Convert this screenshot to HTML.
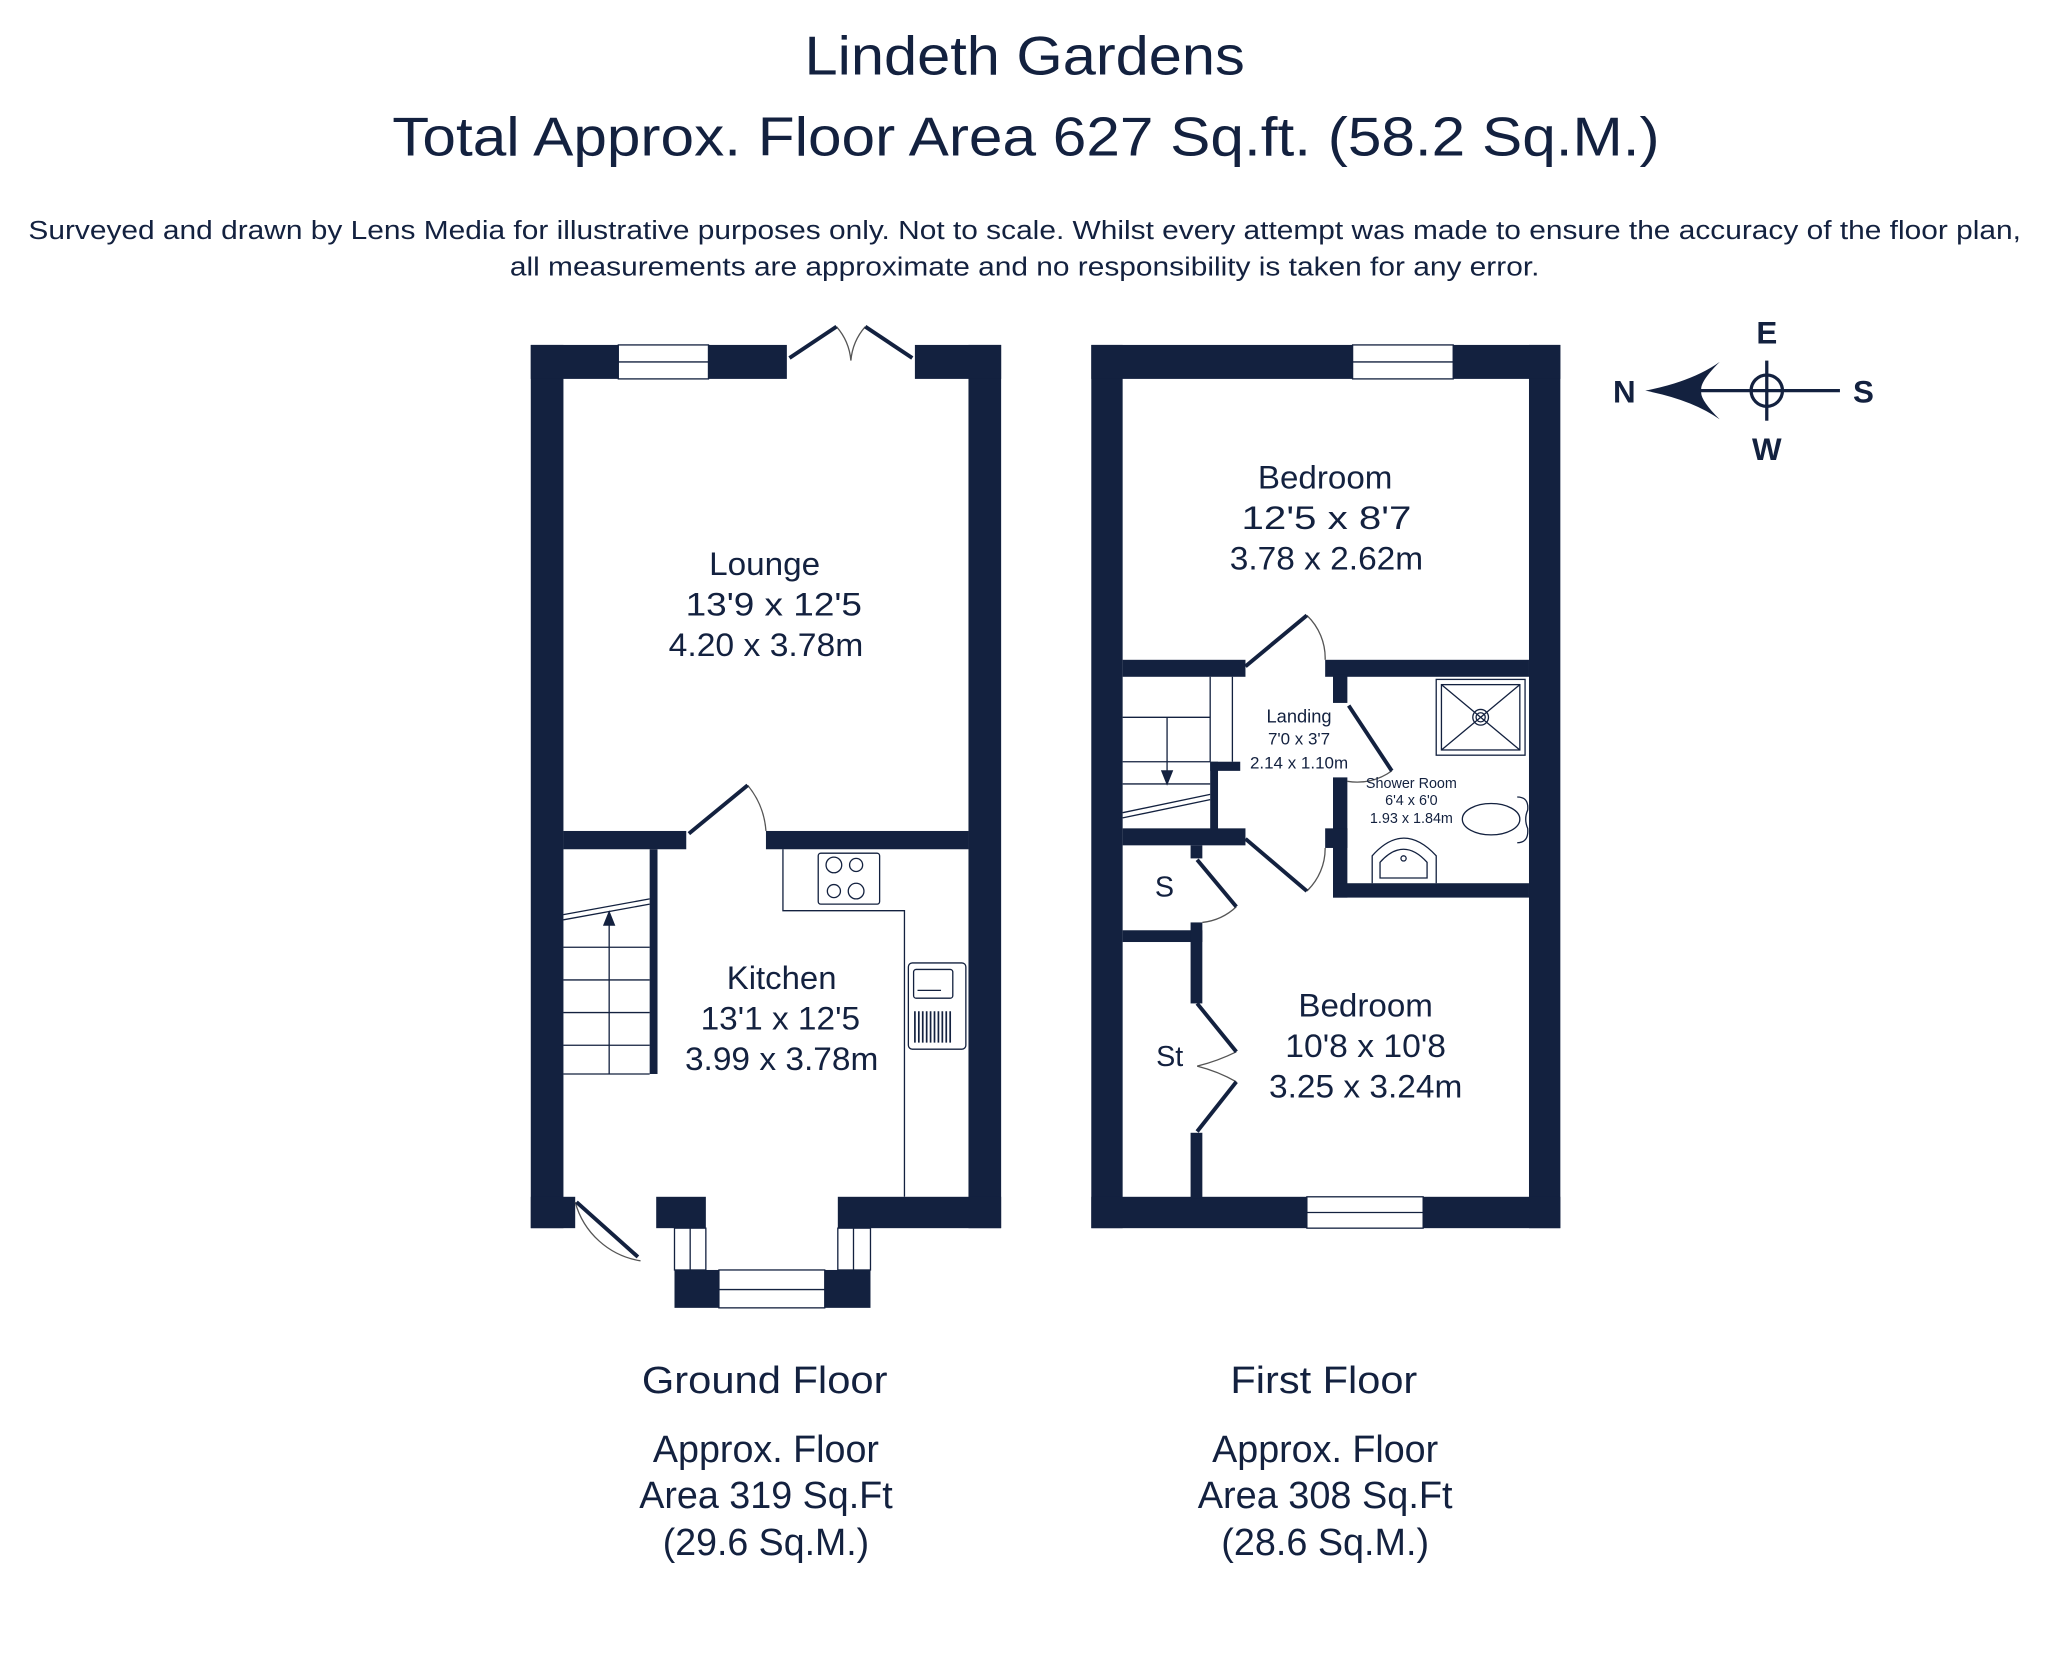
<!DOCTYPE html>
<html><head><meta charset="utf-8"><style>html,body{margin:0;padding:0;background:#fff}svg{display:block}</style></head>
<body>
<svg width="2048" height="1675" viewBox="0 0 1567 1282" xmlns="http://www.w3.org/2000/svg" font-family="'Liberation Sans', sans-serif">
<rect width="1567" height="1282" fill="#fff"/>
<g fill="#13213f" text-anchor="middle" lengthAdjust="spacingAndGlyphs">
<text x="784" y="57" font-size="42" textLength="337" lengthAdjust="spacingAndGlyphs">Lindeth Gardens</text>
<text x="785" y="119" font-size="42" textLength="970" lengthAdjust="spacingAndGlyphs">Total Approx. Floor Area 627 Sq.ft. (58.2 Sq.M.)</text>
<text x="784" y="183" font-size="20" textLength="1525" lengthAdjust="spacingAndGlyphs">Surveyed and drawn by Lens Media for illustrative purposes only. Not to scale. Whilst every attempt was made to ensure the accuracy of the floor plan,</text>
<text x="784" y="211" font-size="20" textLength="788" lengthAdjust="spacingAndGlyphs">all measurements are approximate and no responsibility is taken for any error.</text>
</g>

<!-- GROUND FLOOR -->
<g fill="#13213f">
<rect x="406" y="264" width="25" height="676"/>
<rect x="741" y="264" width="25" height="676"/>
<rect x="406" y="264" width="67" height="26"/>
<rect x="542" y="264" width="60" height="26"/>
<rect x="700" y="264" width="66" height="26"/>
<rect x="406" y="916" width="34" height="24"/>
<rect x="502" y="916" width="38" height="24"/>
<rect x="641" y="916" width="125" height="24"/>
<rect x="516" y="972" width="34" height="29"/>
<rect x="631" y="972" width="35" height="29"/>
<rect x="431" y="636" width="94" height="14"/>
<rect x="586" y="636" width="155" height="14"/>
<rect x="497" y="650" width="6" height="172"/>
</g>
<g fill="none" stroke="#13213f" stroke-width="1">
<rect x="473" y="264" width="69" height="26"/><line x1="473" y1="277" x2="542" y2="277"/>
<rect x="550" y="972" width="81" height="29"/><line x1="550" y1="987" x2="631" y2="987"/>
<rect x="516" y="940" width="24" height="32"/><line x1="528" y1="940" x2="528" y2="972"/>
<rect x="641" y="940" width="25" height="32"/><line x1="653" y1="940" x2="653" y2="972"/>
<path d="M599 650 V697 H692 V916"/>
<rect x="626" y="653" width="47" height="39" rx="2"/>
<circle cx="638" cy="662" r="6"/><circle cx="655" cy="662" r="5"/><circle cx="638" cy="682" r="5"/><circle cx="655" cy="682" r="6"/>
<rect x="695" y="737" width="44" height="66" rx="3"/>
<rect x="699" y="742" width="30" height="22" rx="2"/>
<path d="M702 758 H720"/>
<path d="M700 774v24M703 774v24M706 774v24M709 774v24M712 774v24M715 774v24M718 774v24M721 774v24M724 774v24M727 774v24" stroke-width="1.3"/>
<path d="M431 700 L497 688 M431 704 L497 692"/>
<path d="M431 725 H497 M431 750 H497 M431 775 H497 M431 800 H497 M431 822 H497"/>
<line x1="466" y1="822" x2="466" y2="700"/>
<path d="M462 708 L466 698 L470 708 Z" fill="#13213f"/>
<path d="M586 636 A 62 62 0 0 0 572 601" stroke="#555"/>
<path d="M440 920 A 62 62 0 0 0 490 965" stroke="#555"/>
<path d="M651 276 A 45 45 0 0 0 640 250 M651 276 A 45 45 0 0 1 662 250" stroke="#555"/>
</g>
<g stroke="#13213f" stroke-width="3" fill="none">
<line x1="527" y1="638" x2="572" y2="601"/>
<line x1="441" y1="920" x2="488" y2="962"/>
<line x1="604" y1="274" x2="640" y2="250"/>
<line x1="662" y1="250" x2="698" y2="274"/>
</g>
<g fill="#13213f" text-anchor="middle" font-size="25">
<text x="585" y="440" textLength="85" lengthAdjust="spacingAndGlyphs">Lounge</text>
<text x="592" y="471" textLength="135" lengthAdjust="spacingAndGlyphs">13'9 x 12'5</text>
<text x="586" y="502" textLength="149" lengthAdjust="spacingAndGlyphs">4.20 x 3.78m</text>
<text x="598" y="757" textLength="84" lengthAdjust="spacingAndGlyphs">Kitchen</text>
<text x="597" y="788" textLength="122" lengthAdjust="spacingAndGlyphs">13'1 x 12'5</text>
<text x="598" y="819" textLength="148" lengthAdjust="spacingAndGlyphs">3.99 x 3.78m</text>
</g>

<!-- FIRST FLOOR -->
<g fill="#13213f">
<rect x="835" y="264" width="24" height="676"/>
<rect x="1170" y="264" width="24" height="676"/>
<rect x="835" y="264" width="200" height="26"/>
<rect x="1112" y="264" width="82" height="26"/>
<rect x="835" y="916" width="165" height="24"/>
<rect x="1089" y="916" width="105" height="24"/>
<rect x="859" y="505" width="94" height="13"/>
<rect x="1014" y="505" width="156" height="13"/>
<rect x="1020" y="516" width="11" height="22"/>
<rect x="1020" y="595" width="11" height="40"/>
<rect x="1014" y="634" width="17" height="15"/>
<rect x="1020" y="634" width="11" height="53"/>
<rect x="1020" y="676" width="150" height="11"/>
<rect x="859" y="634" width="94" height="13"/>
<rect x="926" y="583" width="6" height="52"/>
<rect x="926" y="583" width="23" height="7"/>
<rect x="911" y="647" width="9" height="10"/>
<rect x="859" y="712" width="61" height="9"/>
<rect x="911" y="706" width="9" height="62"/>
<rect x="911" y="867" width="9" height="50"/>
</g>
<g fill="none" stroke="#13213f" stroke-width="1">
<rect x="1035" y="264" width="77" height="26"/><line x1="1035" y1="277" x2="1112" y2="277"/>
<rect x="1000" y="916" width="89" height="24"/><line x1="1000" y1="928" x2="1089" y2="928"/>
<path d="M926 518 V583 M943 518 V583 M859 549 H926 M859 583 H926 M859 600 H926"/>
<path d="M893 549 V598"/>
<path d="M889 590 L893 600 L897 590 Z" fill="#13213f"/>
<path d="M859 622 L926 608 M859 626 L926 612"/>
<rect x="1099" y="520" width="68" height="58"/>
<rect x="1103" y="524" width="60" height="50"/>
<path d="M1103 524 L1163 574 M1163 524 L1103 574"/>
<circle cx="1133" cy="549" r="6"/><circle cx="1133" cy="549" r="3.5"/>
<ellipse cx="1141" cy="627" rx="22" ry="12"/>
<path d="M1161 610 Q1170 610 1169 620 Q1166 627 1169 634 Q1170 645 1161 645"/>
<path d="M1050 676 V655 Q1074 628 1099 655 V676"/>
<path d="M1056 672 V660 Q1074 640 1092 660 V672 Z"/>
<circle cx="1074" cy="657" r="2"/>
<path d="M1014 505 A 45 45 0 0 0 1000 471" stroke="#555"/>
<path d="M1031 598 A 45 45 0 0 0 1065 590" stroke="#555"/>
<path d="M1014 649 A 45 45 0 0 1 1000 682" stroke="#555"/>
<path d="M920 706 A 45 45 0 0 0 946 694" stroke="#555"/>
<path d="M916 816 Q932 812 946 805 M916 816 Q932 820 946 828" stroke="#555"/>
</g>
<g stroke="#13213f" stroke-width="3" fill="none">
<line x1="953" y1="510" x2="1000" y2="471"/>
<line x1="1032" y1="540" x2="1065" y2="590"/>
<line x1="953" y1="642" x2="1000" y2="682"/>
<line x1="916" y1="658" x2="946" y2="694"/>
<line x1="916" y1="768" x2="946" y2="805"/>
<line x1="916" y1="866" x2="946" y2="828"/>
</g>
<g fill="#13213f" text-anchor="middle">
<text x="1014" y="374" font-size="25" textLength="103" lengthAdjust="spacingAndGlyphs">Bedroom</text>
<text x="1015" y="405" font-size="25" textLength="130" lengthAdjust="spacingAndGlyphs">12'5 x 8'7</text>
<text x="1015" y="436" font-size="25" textLength="148" lengthAdjust="spacingAndGlyphs">3.78 x 2.62m</text>
<text x="994" y="553" font-size="14">Landing</text>
<text x="994" y="570" font-size="13">7'0 x 3'7</text>
<text x="994" y="588" font-size="13">2.14 x 1.10m</text>
<text x="1080" y="603" font-size="11">Shower Room</text>
<text x="1080" y="616" font-size="11">6'4 x 6'0</text>
<text x="1080" y="630" font-size="11">1.93 x 1.84m</text>
<text x="891" y="686" font-size="22">S</text>
<text x="895" y="816" font-size="22">St</text>
<text x="1045" y="778" font-size="25" textLength="103" lengthAdjust="spacingAndGlyphs">Bedroom</text>
<text x="1045" y="809" font-size="25" textLength="123" lengthAdjust="spacingAndGlyphs">10'8 x 10'8</text>
<text x="1045" y="840" font-size="25" textLength="148" lengthAdjust="spacingAndGlyphs">3.25 x 3.24m</text>
</g>

<!-- compass -->
<g stroke="#13213f" stroke-width="2.5" fill="none">
<line x1="1280" y1="299" x2="1408" y2="299"/>
<line x1="1352" y1="276" x2="1352" y2="322"/>
<circle cx="1352" cy="299" r="12"/>
</g>
<path d="M1259 299 Q1295 292 1316 277 Q1300 293 1302 299 Q1300 305 1316 321 Q1295 306 1259 299 Z" fill="#13213f"/>
<g fill="#13213f" font-weight="bold" font-size="24" text-anchor="middle">
<text x="1352" y="263">E</text>
<text x="1352" y="352">W</text>
<text x="1243" y="308">N</text>
<text x="1426" y="308">S</text>
</g>

<!-- floor labels -->
<g fill="#13213f" text-anchor="middle" font-size="29">
<text x="585" y="1066" textLength="188" lengthAdjust="spacingAndGlyphs">Ground Floor</text>
<text x="586" y="1119" textLength="173" lengthAdjust="spacingAndGlyphs">Approx. Floor</text>
<text x="586" y="1154" textLength="194" lengthAdjust="spacingAndGlyphs">Area 319 Sq.Ft</text>
<text x="586" y="1190" textLength="158" lengthAdjust="spacingAndGlyphs">(29.6 Sq.M.)</text>
<text x="1013" y="1066" textLength="143" lengthAdjust="spacingAndGlyphs">First Floor</text>
<text x="1014" y="1119" textLength="173" lengthAdjust="spacingAndGlyphs">Approx. Floor</text>
<text x="1014" y="1154" textLength="195" lengthAdjust="spacingAndGlyphs">Area 308 Sq.Ft</text>
<text x="1014" y="1190" textLength="159" lengthAdjust="spacingAndGlyphs">(28.6 Sq.M.)</text>
</g>
</svg>
</body></html>
